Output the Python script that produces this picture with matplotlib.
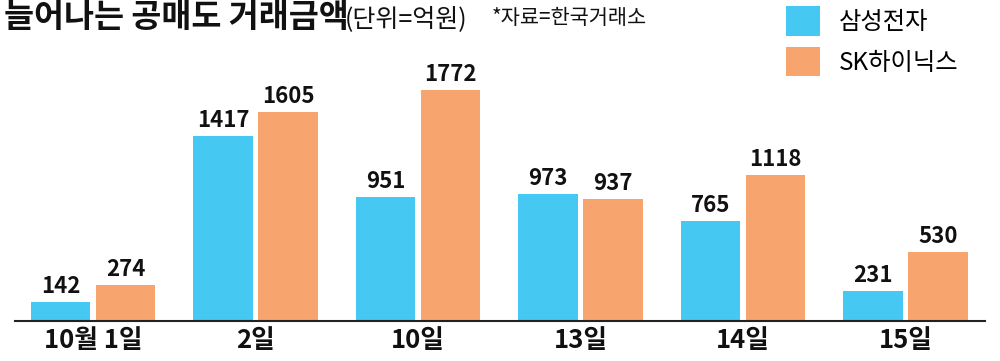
import matplotlib
matplotlib.use("Agg")
import matplotlib.pyplot as plt
from matplotlib.patches import Patch
import numpy as np

plt.rcParams['font.family'] = ['Noto Sans CJK KR', 'DejaVu Sans']

categories = ["10월 1일", "2일", "10일", "13일", "14일", "15일"]
samsung = [142, 1417, 951, 973, 765, 231]
hynix = [274, 1605, 1772, 937, 1118, 530]
series_names = ["삼성전자", "SK하이닉스"]

blue = "#45C8F2"
orange = "#F7A46F"

fig = plt.figure(figsize=(10, 3.61), dpi=100)
ax = fig.add_axes([0.015, 40/361, 0.97, 1 - 40/361 - 60/361])

x = np.arange(len(categories))
w = 0.365
b1 = ax.bar(x - 0.2, samsung, width=w, color=blue)
b2 = ax.bar(x + 0.2, hynix, width=w, color=orange)

ax.bar_label(b1, labels=[str(v) for v in samsung], padding=3, fontsize=16, fontweight='bold', color='#111111')
ax.bar_label(b2, labels=[str(v) for v in hynix], padding=3, fontsize=16, fontweight='bold', color='#111111')

ax.set_xlim(-0.48, 5.49)
ax.set_ylim(0, 261 / 0.1304)
for s in ['top', 'right', 'left']:
    ax.spines[s].set_visible(False)
ax.spines['bottom'].set_linewidth(1.5)
ax.spines['bottom'].set_color('#222222')
ax.set_yticks([])
ax.set_xticks(x)
ax.set_xticklabels(categories, fontsize=18.5, fontweight='bold', color='#111111')
ax.tick_params(axis='x', length=0, pad=4)

fig.text(0.004, 1 - 18/361, "늘어나는 공매도 거래금액", fontsize=23.5, fontweight='bold', va='center', ha='left', color='#111111')
fig.text(0.345, 1 - 19/361, "(단위=억원)", fontsize=18, va='center', ha='left', color='#111111')
fig.text(0.492, 1 - 18/361, "*자료=한국거래소", fontsize=15, va='center', ha='left', color='#111111')

handles = [Patch(facecolor=blue), Patch(facecolor=orange)]
fig.legend(handles, series_names, loc='upper left', bbox_to_anchor=(0.776, 1.01), frameon=False,
           fontsize=17.5, handlelength=1.4, handleheight=1.5, labelspacing=0.45, handletextpad=0.8,
           borderaxespad=0)

fig.savefig("out.png", dpi=100)
